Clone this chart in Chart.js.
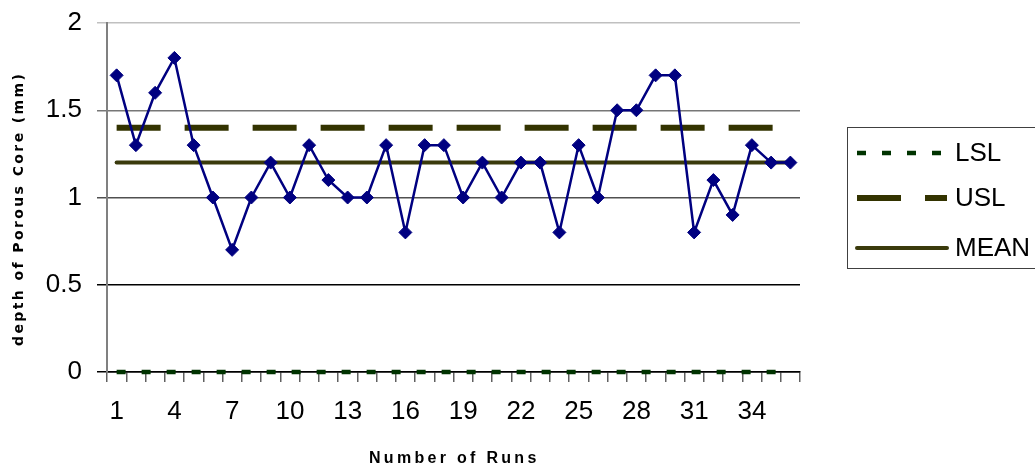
<!DOCTYPE html>
<html>
<head>
<meta charset="utf-8">
<script src="https://cdn.jsdelivr.net/npm/chart.js@4/dist/chart.umd.min.js"></script>
<style>
  html, body { margin: 0; padding: 0; background: #fff; }
  #wrap { width: 1035px; height: 469px; overflow: hidden; }
</style>
</head>
<body>
<div id="wrap"><canvas id="c" width="1035" height="469"></canvas></div>
<script>
// ---- Data ----
const runs = ['1','2','3','4','5','6','7','8','9','10','11','12','13','14','15','16','17','18',
              '19','20','21','22','23','24','25','26','27','28','29','30','31','32','33','34','35','36'];
const depth = [1.7, 1.3, 1.6, 1.8, 1.3, 1.0, 0.7, 1.0, 1.2, 1.0, 1.3, 1.1, 1.0, 1.0, 1.3, 0.8, 1.3, 1.3,
               1.0, 1.2, 1.0, 1.2, 1.2, 0.8, 1.3, 1.0, 1.5, 1.5, 1.7, 1.7, 0.8, 1.1, 0.9, 1.3, 1.2, 1.2];
const shownRunTicks = ['1','4','7','10','13','16','19','22','25','28','31','34'];
const yTicks = [0, 0.5, 1, 1.5, 2];
const LSL = 0;
const USL = 1.4;
const MEAN = 1.2;
const seriesNames = ['LSL', 'USL', 'MEAN'];
const xTitle = 'Number of Runs';
const yTitle = 'depth of Porous Core (mm)';

const FONT = '"Liberation Sans", Arial, sans-serif';
const firstRun = runs[0], lastRun = runs[runs.length - 1];

function levelLine(v) { return [{x: firstRun, y: v}, {x: lastRun, y: v}]; }

const gridColors = {0: '#000000', 0.5: '#000000', 1: '#505050', 1.5: '#777777', 2: '#c0c0c0'};

const legendPlugin = {
  id: 'boxLegend',
  afterDraw(chart) {
    const ctx = chart.ctx;
    ctx.save();
    const bx = 847.5, by = 127.5, bw = 200, bh = 141;
    ctx.fillStyle = '#ffffff';
    ctx.fillRect(bx, by, bw, bh);
    ctx.strokeStyle = '#404040';
    ctx.lineWidth = 1;
    ctx.strokeRect(bx, by, bw, bh);
    const ys = [153, 198, 248];
    seriesNames.forEach((name, i) => {
      const ds = chart.data.datasets.find(d => d.label === name);
      ctx.save();
      ctx.strokeStyle = ds.borderColor;
      ctx.lineWidth = ds.borderWidth;
      ctx.setLineDash(ds.borderDash || []);
      ctx.lineCap = ds.borderCapStyle || 'butt';
      ctx.beginPath();
      ctx.moveTo(857, ys[i]);
      ctx.lineTo(947, ys[i]);
      ctx.stroke();
      ctx.restore();
      ctx.fillStyle = '#000';
      ctx.font = '26px ' + FONT;
      ctx.textBaseline = 'middle';
      ctx.textAlign = 'left';
      ctx.fillText(name, 955, ys[i] + 1);
    });

    // axis titles (letter-spaced)
    const ca = chart.chartArea;
    ctx.fillStyle = '#000';
    ctx.textAlign = 'left';
    ctx.textBaseline = 'middle';
    ctx.font = 'bold 16px ' + FONT;
    ctx.letterSpacing = '3.3px';
    const wx = ctx.measureText(xTitle).width;
    ctx.fillText(xTitle, 369, 459);
    ctx.save();
    ctx.font = 'bold 14px "DejaVu Sans", Verdana, sans-serif';
    ctx.letterSpacing = '2.4px';
    ctx.translate(19, 346);
    ctx.rotate(-Math.PI / 2);
    ctx.fillText(yTitle, 0, 0);
    ctx.restore();
    ctx.letterSpacing = '0px';
    ctx.restore();
  }
};

new Chart(document.getElementById('c'), {
  type: 'line',
  data: {
    labels: runs,
    datasets: [
      {
        label: 'depth',
        data: depth,
        borderColor: '#000080',
        backgroundColor: '#000080',
        borderWidth: 2.5,
        pointStyle: 'rectRot',
        pointRadius: 6.5,
        pointHoverRadius: 6.5,
        pointBorderWidth: 1,
        pointBackgroundColor: '#000080',
        pointBorderColor: '#000080',
        tension: 0,
        order: 0
      },
      {
        label: 'LSL',
        data: levelLine(LSL),
        borderColor: '#003300',
        borderWidth: 4.5,
        borderDash: [9, 16],
        pointRadius: 0,
        clip: false,
        order: 3
      },
      {
        label: 'USL',
        data: levelLine(USL),
        borderColor: '#333300',
        borderWidth: 6,
        borderDash: [44, 24],
        pointRadius: 0,
        order: 2
      },
      {
        label: 'MEAN',
        data: levelLine(MEAN),
        borderColor: '#3a3a0c',
        borderWidth: 4,
        borderCapStyle: 'round',
        pointRadius: 0,
        order: 1
      }
    ]
  },
  options: {
    responsive: false,
    animation: false,
    events: [],
    layout: { padding: { left: 0, right: 235, top: 23, bottom: 0 } },
    plugins: {
      legend: { display: false },
      tooltip: { enabled: false }
    },
    scales: {
      x: {
        type: 'category',
        offset: true,
        afterFit(scale) { scale.height = 97; scale.paddingLeft = 0; scale.paddingRight = 0; },
        border: { display: true, color: '#000000', width: 1.5 },
        grid: {
          offset: true,
          drawOnChartArea: false,
          drawTicks: true,
          tickLength: 10,
          color: '#606060',
          lineWidth: 1.5
        },
        ticks: {
          autoSkip: false,
          maxRotation: 0,
          padding: 14,
          color: '#000',
          font: { family: FONT, size: 26 },
          callback(value, index) {
            const l = runs[index];
            return shownRunTicks.includes(l) ? l : '';
          }
        },
        title: { display: false }
      },
      y: {
        min: yTicks[0],
        max: yTicks[yTicks.length - 1],
        afterFit(scale) { scale.width = 107; scale.paddingTop = 0; scale.paddingBottom = 0; },
        afterBuildTicks(scale) { scale.ticks = yTicks.map(v => ({ value: v })); },
        border: { display: true, color: '#808080', width: 2 },
        grid: {
          drawTicks: true,
          tickLength: 10,
          lineWidth: 1.5,
          color(ctx) { return gridColors[ctx.tick ? ctx.tick.value : 0] || '#808080'; }
        },
        ticks: {
          padding: 15,
          color: '#000',
          font: { family: FONT, size: 26 },
          callback(value) { return String(value); }
        },
        title: { display: false }
      }
    }
  },
  plugins: [legendPlugin]
});
</script>
</body>
</html>
